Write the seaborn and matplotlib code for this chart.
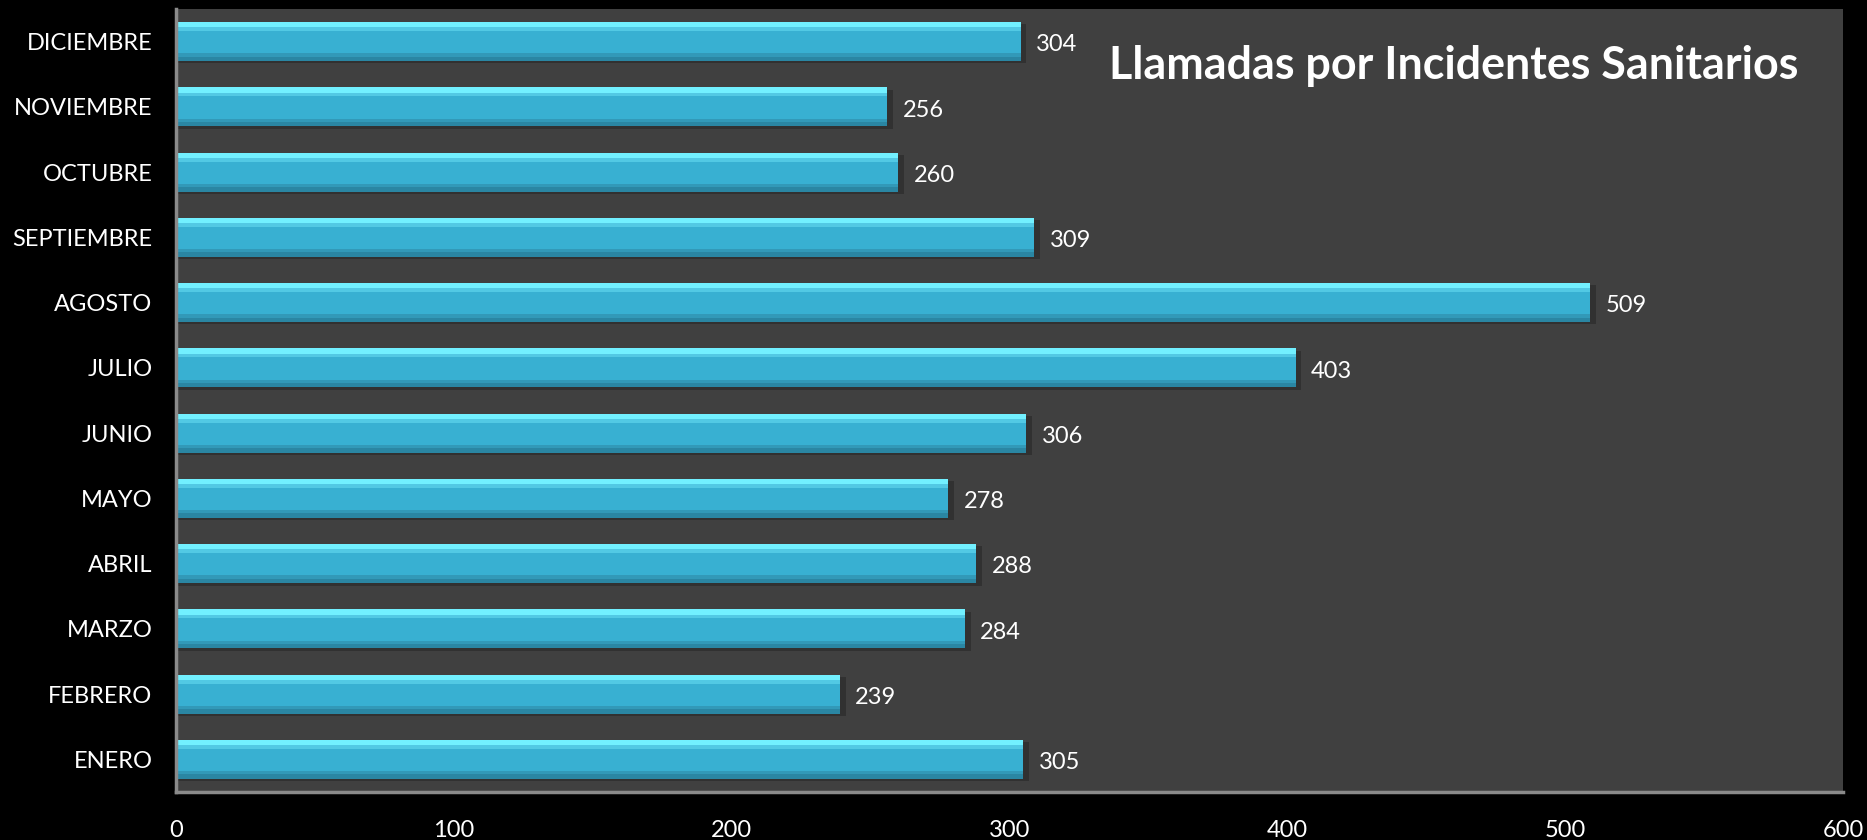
import matplotlib
matplotlib.use("Agg")
import matplotlib.pyplot as plt
import seaborn as sns
import pandas as pd

months = ["ENERO", "FEBRERO", "MARZO", "ABRIL", "MAYO", "JUNIO", "JULIO",
          "AGOSTO", "SEPTIEMBRE", "OCTUBRE", "NOVIEMBRE", "DICIEMBRE"]
calls = [305, 239, 284, 288, 278, 306, 403, 509, 309, 260, 256, 304]
title = "Llamadas por Incidentes Sanitarios"
xticks = [0, 100, 200, 300, 400, 500, 600]

sns.set_theme(style="dark")
plt.rcParams['font.family'] = ['Lato', 'DejaVu Sans']

order = months[::-1]
df = pd.DataFrame({"mes": months, "llamadas": calls})

fig = plt.figure(figsize=(18.67, 8.4), dpi=100)
fig.patch.set_facecolor("black")
ax = fig.add_axes([0.0943, 0.0571, 0.8928, 0.9322])
ax.set_facecolor("#404040")

H = 0.6
sns.barplot(data=df, y="mes", x="llamadas", order=order, orient="h",
            color="#38b0d2", saturation=1, width=H, ax=ax, zorder=3,
            linewidth=0, edgecolor="none")
ax.set_ylim(len(months) - 0.5, -0.5)

# bevel effect layers
pos = {m: i for i, m in enumerate(order)}
ys = [pos[m] for m in months]
# shadow
ax.barh([y + 0.035 for y in ys], [v + 2 for v in calls], height=H,
        color="#262626", alpha=0.55, zorder=2, linewidth=0)
# top highlight
ax.barh([y - H / 2 + 0.04 for y in ys], calls, height=0.08,
        color="#72f0ff", zorder=4, linewidth=0)
ax.barh([y - H / 2 + 0.11 for y in ys], calls, height=0.06,
        color="#52c9e4", zorder=4, linewidth=0)
# bottom dark
ax.barh([y + H / 2 - 0.035 for y in ys], calls, height=0.07,
        color="#2a86a3", zorder=4, linewidth=0)
ax.barh([y + H / 2 - 0.095 for y in ys], calls, height=0.05,
        color="#3299b8", zorder=4, linewidth=0)

for y, v in zip(ys, calls):
    ax.text(v + 5.5, y + 0.05, str(v), color="white", fontsize=17,
            va="center", ha="left", zorder=5)

ax.set_xlim(0, 600)
ax.set_xticks(xticks)
ax.set_xticklabels([str(t) for t in xticks])
ax.set_xlabel("")
ax.set_ylabel("")
ax.tick_params(axis="both", colors="white", labelsize=17, length=0)
ax.tick_params(axis="y", pad=17)
ax.tick_params(axis="x", pad=20)
for lab in ax.get_yticklabels():
    lab.set_va("center_baseline")
ax.grid(False)
for s in ["top", "right"]:
    ax.spines[s].set_visible(False)
for s in ["left", "bottom"]:
    ax.spines[s].set_visible(True)
    ax.spines[s].set_color("#8a8a8a")
    ax.spines[s].set_linewidth(2.5)
    ax.spines[s].set_zorder(6)

ax.text(0.5595, 0.927, title, transform=ax.transAxes, color="white",
        fontsize=32.3, fontweight="bold", ha="left", va="center")

fig.savefig("out.png", dpi=100, facecolor=fig.get_facecolor())
